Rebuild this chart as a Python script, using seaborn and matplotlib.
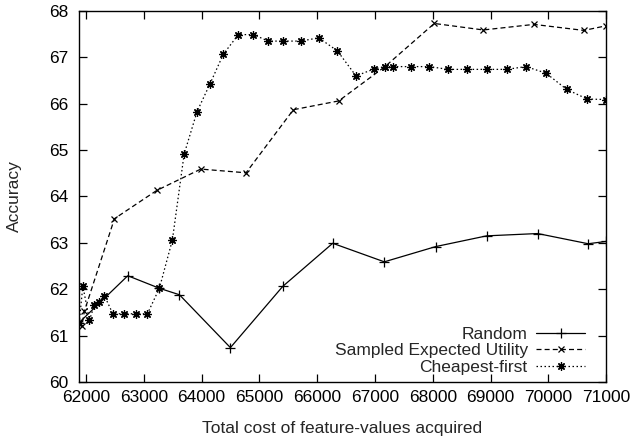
import matplotlib
matplotlib.use("Agg")
import matplotlib.pyplot as plt
import seaborn as sns
import pandas as pd

# Values
random_cost = [61880, 62721, 63268, 63615, 64497, 65403, 66268, 67161, 68055,
               68932, 69815, 70690, 71000]
random_acc = [61.28, 62.29, 62.02, 61.88, 60.74, 62.06, 62.99, 62.59, 62.92,
              63.15, 63.20, 62.98, 63.03]

seu_cost = [61880, 61926, 61971, 62490, 63223, 63984, 64768, 65587, 66372,
            67173, 68026, 68875, 69751, 70616, 71000]
seu_acc = [61.27, 61.20, 61.53, 63.52, 64.13, 64.59, 64.51, 65.87, 66.06,
           66.80, 67.73, 67.59, 67.71, 67.58, 67.68]

cheap_cost = [61880, 61943, 62057, 62144, 62230, 62317, 62462, 62663, 62865,
              63061, 63268, 63493, 63696, 63920, 64145, 64376, 64635, 64895,
              65154, 65414, 65714, 66026, 66348, 66671, 66988, 67173, 67306,
              67623, 67940, 68268, 68597, 68932, 69278, 69612, 69958, 70316,
              70673, 71000]
cheap_acc = [61.27, 62.07, 61.33, 61.66, 61.73, 61.86, 61.47, 61.47, 61.47,
             61.47, 62.02, 63.06, 64.91, 65.83, 66.43, 67.07, 67.49, 67.49,
             67.35, 67.35, 67.35, 67.42, 67.14, 66.60, 66.75, 66.80, 66.80,
             66.80, 66.80, 66.74, 66.74, 66.74, 66.74, 66.80, 66.66, 66.31,
             66.10, 66.09]

x_ticks = [62000, 63000, 64000, 65000, 66000, 67000, 68000, 69000, 70000, 71000]
y_ticks = [60, 61, 62, 63, 64, 65, 66, 67, 68]

sns.set_theme(style="ticks")
plt.rcParams['font.family'] = ['Liberation Sans', 'DejaVu Sans']
plt.rcParams['font.size'] = 12.5

fig = plt.figure(figsize=(6.34, 4.38), dpi=100)
ax = fig.add_axes([0.124, 0.128, 0.832, 0.847])

series = [
    ("Random", random_cost, random_acc, "-", "+", 7),
    ("Sampled Expected Utility", seu_cost, seu_acc, (0, (4, 2.5)), "x", 5),
    ("Cheapest-first", cheap_cost, cheap_acc, (0, (1.2, 2)), (8, 2, 0), 6),
]
for label, xs, ys, ls, mk, ms in series:
    df = pd.DataFrame({"cost": xs, "acc": ys})
    sns.lineplot(data=df, x="cost", y="acc", ax=ax, color="black",
                 linestyle=ls, linewidth=0.9, marker=mk, markersize=ms,
                 markeredgewidth=0.9, markeredgecolor="black",
                 estimator=None, sort=False, label=label)

ax.set_xlim(61870, 71000)
ax.set_ylim(60, 68)
ax.set_xticks(x_ticks)
ax.set_yticks(y_ticks)
ax.tick_params(direction="in", length=6, width=0.9, top=True, right=True,
               labelsize=12.5, colors="black")
ax.tick_params(axis="x", pad=5.5)
ax.tick_params(axis="y", pad=7.5)
for s in ax.spines.values():
    s.set_linewidth(1.0)
    s.set_color("black")

ax.set_xlabel("Total cost of feature-values acquired", fontsize=12.5)
ax.set_ylabel("Accuracy", fontsize=12.5)
ax.xaxis.set_label_coords(0.5, -0.105)
ax.yaxis.set_label_coords(-0.107, 0.5)

leg = ax.legend(loc="lower right", frameon=False, markerfirst=False,
                fontsize=12.5, handlelength=2.8, handletextpad=0.5,
                labelspacing=0.08, borderaxespad=0.0,
                bbox_to_anchor=(0.973, 0.0))

fig.savefig("out.png", dpi=100)
